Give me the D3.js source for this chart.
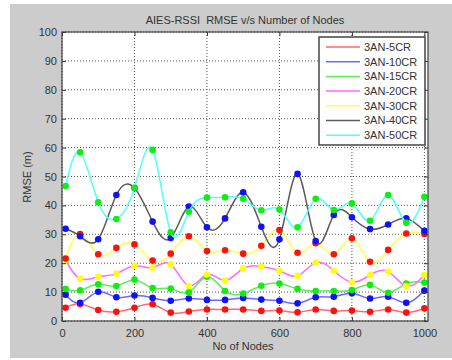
<!DOCTYPE html>
<html>
<head>
<meta charset="utf-8">
<script src="https://cdn.jsdelivr.net/npm/d3@7"></script>
<style>
body { margin: 0; background: #fff; }
svg { display: block; font-family: "Liberation Sans", Arial, sans-serif; }
</style>
</head>
<body>
<svg width="452" height="360"></svg>
<script>
// number of nodes (x values)
const nodes = [10, 50, 100, 150, 200, 250, 300, 350, 400, 450, 500, 550, 600, 650, 700, 750, 800, 850, 900, 950, 1000];

// RMSE values
const rmse5CR  = [4.6, 5.9, 3.8, 3.2, 4.6, 5.8, 2.9, 3.3, 4.0, 4.0, 4.0, 3.5, 3.6, 3.0, 4.0, 3.5, 3.6, 3.2, 4.0, 2.9, 4.4];
const rmse10CR = [9.1, 6.3, 10.1, 8.2, 8.8, 8.0, 7.0, 7.8, 7.3, 7.3, 8.0, 7.4, 7.0, 6.1, 8.2, 8.4, 9.6, 7.8, 8.4, 6.3, 10.5];
const rmse15CR = [11.1, 10.6, 12.7, 12.1, 14.3, 11.4, 11.2, 9.9, 15.3, 10.4, 9.5, 12.2, 13.0, 11.1, 10.4, 10.4, 10.7, 12.5, 9.8, 13.0, 13.3];
const rmse20CR = [21.0, 14.6, 15.3, 16.4, 19.1, 18.5, 19.6, 12.1, 16.1, 14.0, 18.2, 18.8, 17.4, 15.6, 20.2, 17.4, 13.4, 15.9, 17.1, 12.1, 15.9];
const rmse30CR = [21.6, 30.1, 23.1, 25.3, 26.5, 20.9, 23.3, 29.3, 24.2, 24.5, 23.3, 26.0, 31.5, 23.6, 26.9, 23.1, 28.6, 20.5, 24.6, 30.3, 30.1];
const rmse40CR = [31.9, 29.3, 28.3, 43.6, 46.0, 34.4, 28.7, 39.6, 32.4, 35.5, 44.5, 32.6, 28.3, 50.9, 27.7, 36.7, 35.9, 31.8, 33.4, 35.5, 31.2];
const rmse50CR = [46.7, 58.4, 41.1, 35.3, 46.1, 59.2, 30.7, 37.8, 42.7, 42.8, 42.3, 38.3, 38.6, 32.4, 42.3, 38.4, 40.7, 34.7, 43.6, 34.0, 43.0];

const seriesNames = ["3AN-5CR", "3AN-10CR", "3AN-15CR", "3AN-20CR", "3AN-30CR", "3AN-40CR", "3AN-50CR"];
const seriesValues = [rmse5CR, rmse10CR, rmse15CR, rmse20CR, rmse30CR, rmse40CR, rmse50CR];

const xTicks = [0, 200, 400, 600, 800, 1000];
const yTicks = [0, 10, 20, 30, 40, 50, 60, 70, 80, 90, 100];

const lineColors = ["#ff6a6a", "#6a6aff", "#5cee5c", "#ff6aff", "#ffff4a", "#5a5a5a", "#50ffff"];
const markerColors = ["#ff1010", "#1010ff", "#10ee10", "#ffff10", "#ff1010", "#1010ff", "#10ee10"];

const svg = d3.select("svg"),
    margin = {top: 32, right: 24, bottom: 39, left: 62},
    width = +svg.attr("width") - margin.left - margin.right,
    height = +svg.attr("height") - margin.top - margin.bottom;

// gray figure background
svg.append("rect")
    .attr("x", 10).attr("y", 4)
    .attr("width", 442).attr("height", 354)
    .attr("fill", "#cccccc");

const x = d3.scaleLinear().domain([0, 1010]).range([0, width]),
    y = d3.scaleLinear().domain([0, 100]).range([height, 0]);

const g = svg.append("g")
    .attr("transform", `translate(${margin.left},${margin.top})`);

g.append("rect")
    .attr("width", width).attr("height", height)
    .attr("fill", "#fff");

// dotted grid
g.selectAll(".vgrid")
    .data(xTicks)
    .enter().append("line")
    .attr("x1", d => x(d)).attr("x2", d => x(d))
    .attr("y1", 0).attr("y2", height)
    .attr("stroke", "#555").attr("stroke-dasharray", "1,2");

g.selectAll(".hgrid")
    .data(yTicks)
    .enter().append("line")
    .attr("x1", 0).attr("x2", width)
    .attr("y1", d => y(d)).attr("y2", d => y(d))
    .attr("stroke", "#555").attr("stroke-dasharray", "1,2");

// series: smooth line first, then markers
const line = d3.line()
    .x(d => x(d[0]))
    .y(d => y(d[1]))
    .curve(d3.curveNatural);

seriesValues.forEach((vals, i) => {
    const pts = nodes.map((n, j) => [n, vals[j]]);
    g.append("path")
        .datum(pts)
        .attr("fill", "none")
        .attr("stroke", lineColors[i])
        .attr("stroke-width", 1.5)
        .attr("d", line);
    g.selectAll(".dot" + i)
        .data(pts)
        .enter().append("circle")
        .attr("cx", d => x(d[0]))
        .attr("cy", d => y(d[1]))
        .attr("r", 3.3)
        .attr("fill", markerColors[i]);
});

// axes with inward ticks
g.append("g")
    .attr("transform", `translate(0,${height})`)
    .call(d3.axisBottom(x).tickValues(xTicks).tickFormat(d3.format("d"))
        .tickSizeInner(-4).tickSizeOuter(0).tickPadding(8));
g.append("g")
    .call(d3.axisLeft(y).tickValues(yTicks).tickSizeInner(-4).tickSizeOuter(0).tickPadding(5));
g.append("g")
    .call(d3.axisTop(x).tickValues(xTicks).tickSizeInner(-4).tickSizeOuter(0).tickFormat(""));
g.append("g")
    .attr("transform", `translate(${width},0)`)
    .call(d3.axisRight(y).tickValues(yTicks).tickSizeInner(-4).tickSizeOuter(0).tickFormat(""));

g.selectAll(".domain").remove();
g.selectAll(".tick line").attr("stroke", "#333");
g.selectAll(".tick text")
    .attr("fill", "#333")
    .style("font-size", "11px")
    .style("font-family", "Liberation Sans, Arial, sans-serif");

g.append("rect")
    .attr("width", width).attr("height", height)
    .attr("fill", "none")
    .attr("stroke", "#444")
    .attr("stroke-width", 1.2);

// title and axis labels
svg.append("text")
    .attr("x", 245).attr("y", 24)
    .attr("text-anchor", "middle")
    .attr("fill", "#333")
    .style("font-size", "11px")
    .style("white-space", "pre")
    .text("AIES-RSSI  RMSE v/s Number of Nodes");

svg.append("text")
    .attr("x", 243).attr("y", 350)
    .attr("text-anchor", "middle")
    .attr("fill", "#333")
    .style("font-size", "11px")
    .text("No of Nodes");

svg.append("text")
    .attr("transform", "translate(31,177) rotate(-90)")
    .attr("text-anchor", "middle")
    .attr("fill", "#333")
    .style("font-size", "11px")
    .text("RMSE (m)");

// legend
const legend = svg.append("g").attr("transform", "translate(319,37)");
legend.append("rect")
    .attr("width", 106).attr("height", 108)
    .attr("fill", "#fff")
    .attr("stroke", "#444")
    .attr("stroke-width", 1.5);

const items = legend.selectAll(".item")
    .data(seriesNames)
    .enter().append("g")
    .attr("transform", (d, i) => `translate(0,${10 + i * 14.7})`);
items.append("line")
    .attr("x1", 7).attr("x2", 41)
    .attr("stroke", (d, i) => lineColors[i])
    .attr("stroke-width", 1.5);
items.append("text")
    .attr("x", 45).attr("dy", "0.35em")
    .attr("fill", "#333")
    .style("font-size", "11px")
    .text(d => d);
</script>
</body>
</html>
